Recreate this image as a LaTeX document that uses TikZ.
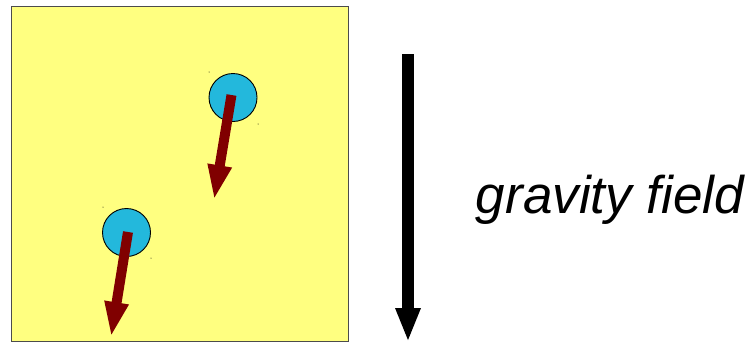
\documentclass[tikz,border=0pt]{standalone}
\usepackage{fontspec}
\setmainfont{Liberation Sans}
\usetikzlibrary{arrows.meta}
\definecolor{boxyellow}{RGB}{255,255,128}
\definecolor{ballblue}{RGB}{35,184,220}
\definecolor{arrowred}{RGB}{128,0,0}
\tikzset{
  ball/.style={circle, draw=black, line width=0.9pt, fill=ballblue, minimum size=48pt, inner sep=0pt},
  vel/.style={draw=arrowred, line width=10pt, -{Triangle[length=35pt,width=22pt]}},
  grav/.style={draw=black, line width=12pt, -{Triangle[length=34pt,width=23pt]}},
  speck/.style={fill=black, circle, inner sep=0pt, minimum size=1pt}
}
\begin{document}
\begin{tikzpicture}[x=1pt,y=-1pt]
\useasboundingbox (0,0) rectangle (751,343);
\node[draw=black!70, line width=1pt, fill=boxyellow, minimum width=337pt, minimum height=335pt, inner sep=0pt, anchor=north west] (box) at (11,6) {};
\node[ball] (b1) at (233,97.5) {};
\node[ball] (b2) at (126.5,232.5) {};
\node[speck] (s1) at (209,72) {};
\node[speck] (s2) at (258,124) {};
\node[speck] (s3) at (103,207) {};
\node[speck] (s4) at (151,258) {};
\coordinate (a1s) at (231.5,95);
\coordinate (a1e) at (214,200);
\coordinate (a2s) at (128,232);
\coordinate (a2e) at (111,337);
\draw[vel] (a1s) -- (a1e);
\draw[vel] (a2s) -- (a2e);
\coordinate (gs) at (408,54);
\coordinate (ge) at (408,342);
\draw[grav] (gs) -- (ge);
\node[font=\itshape\fontsize{53}{60}\selectfont, anchor=base] (lbl) at (610,213) {gravity field};
\end{tikzpicture}
\end{document}
